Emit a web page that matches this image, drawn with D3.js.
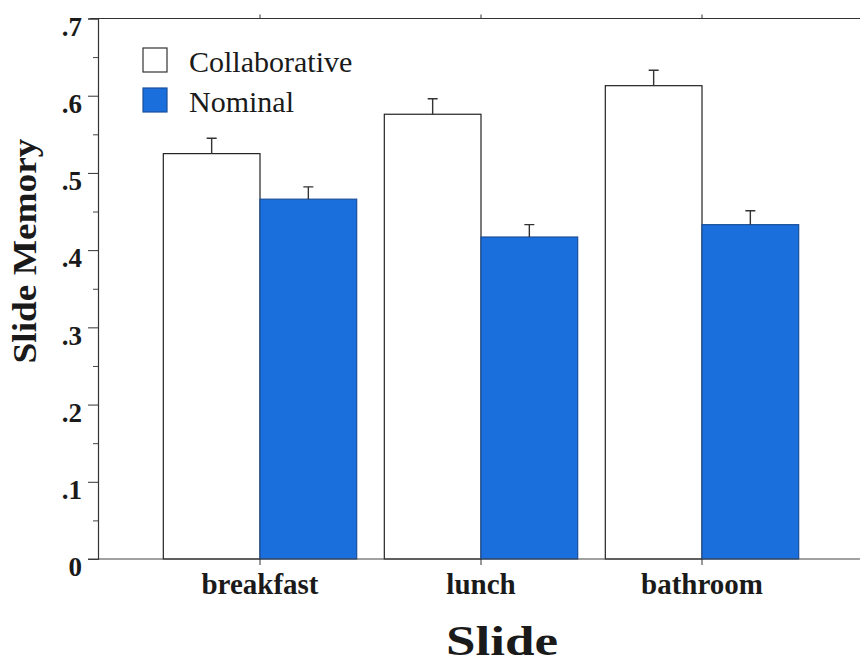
<!DOCTYPE html>
<html>
<head>
<meta charset="utf-8">
<script src="https://cdn.jsdelivr.net/npm/d3@7"></script>
<style>
  body { margin: 0; background: #fff; }
  svg { display: block; }
</style>
</head>
<body>
<div id="chart"></div>
<script>
const categories = ["breakfast", "lunch", "bathroom"];
const seriesNames = ["Collaborative", "Nominal"];
const collaborative = [0.525, 0.576, 0.613];
const nominal = [0.466, 0.417, 0.433];
const collaborativeErr = [0.02, 0.02, 0.02];
const nominalErr = [0.016, 0.016, 0.018];
const yTicks = [0, 0.1, 0.2, 0.3, 0.4, 0.5, 0.6, 0.7];
const yMinorTicks = [0.05, 0.15, 0.25, 0.35, 0.45, 0.55, 0.65];

const width = 860, height = 666;
const serif = "\"Liberation Serif\", \"Times New Roman\", Times, serif";
const blue = "#1b6fdc";

const svg = d3.select("#chart")
  .append("svg")
  .attr("width", width)
  .attr("height", height)
  .style("font-family", serif);

const plotLeft = 98, plotTop = 18.5, plotBottom = 559;

const y = d3.scaleLinear().domain([0, 0.7]).range([plotBottom, plotTop]);

const x = d3.scaleBand()
  .domain(categories)
  .range([149.5, 812.5])
  .paddingInner(0.125)
  .paddingOuter(0.0625);

const xInner = d3.scaleBand()
  .domain(seriesNames)
  .range([0, x.bandwidth()]);

const color = d3.scaleOrdinal().domain(seriesNames).range(["#ffffff", blue]);

const rows = categories.map((c, i) => ({
  cat: c,
  values: [
    { key: "Collaborative", v: collaborative[i], err: collaborativeErr[i] },
    { key: "Nominal", v: nominal[i], err: nominalErr[i] },
  ],
}));

// frame (right side runs off the page)
svg.append("line")
  .attr("x1", plotLeft - 8).attr("x2", width + 20)
  .attr("y1", plotTop).attr("y2", plotTop)
  .attr("stroke", "#333").attr("stroke-width", 1.2);

// bars
const groups = svg.selectAll(".grp")
  .data(rows)
  .enter()
  .append("g")
  .attr("class", "grp")
  .attr("transform", (d) => `translate(${x(d.cat)},0)`);

groups.selectAll("rect")
  .data((d) => d.values)
  .enter()
  .append("rect")
  .attr("x", (d) => xInner(d.key))
  .attr("y", (d) => y(d.v))
  .attr("width", xInner.bandwidth())
  .attr("height", (d) => y(0) - y(d.v))
  .attr("fill", (d) => color(d.key))
  .attr("stroke", (d) => (d.key === "Nominal" ? "#1a4f9a" : "#222"))
  .attr("stroke-width", 1.2);

// error bars (upper only)
groups.selectAll(".err")
  .data((d) => d.values)
  .enter()
  .append("path")
  .attr("class", "err")
  .attr("d", (d) => {
    const cx = xInner(d.key) + xInner.bandwidth() / 2;
    const y0 = y(d.v), y1 = y(d.v + d.err);
    return `M${cx},${y0}V${y1}M${cx - 5},${y1}H${cx + 5}`;
  })
  .attr("fill", "none")
  .attr("stroke", "#333")
  .attr("stroke-width", 1.4);

// y axis
const yAxis = d3.axisLeft(y)
  .tickValues(yTicks)
  .tickSize(10)
  .tickFormat((d) => (d === 0 ? "0" : d3.format(".1f")(d).replace(/^0/, "")));

const yg = svg.append("g")
  .attr("transform", `translate(${plotLeft},0)`)
  .call(yAxis)
  .attr("font-family", null);
yg.select(".domain").attr("stroke", "#333").attr("stroke-width", 1.2);
yg.selectAll(".tick line").attr("stroke", "#333");
yg.selectAll("text")
  .attr("x", -16)
  .attr("dy", "0.62em")
  .attr("fill", "#1a1a1a")
  .style("font-family", serif)
  .style("font-weight", "bold")
  .style("font-size", "27px");

svg.append("g")
  .attr("transform", `translate(${plotLeft},0)`)
  .call(d3.axisLeft(y).tickValues(yMinorTicks).tickSize(5).tickFormat(""))
  .call((g) => g.select(".domain").remove())
  .selectAll("line").attr("stroke", "#444");

// baseline
svg.append("line")
  .attr("x1", plotLeft - 10).attr("x2", width + 20)
  .attr("y1", y(0)).attr("y2", y(0))
  .attr("stroke", "#444").attr("stroke-width", 1.2);

// category ticks, bottom and top
const centers = categories.map((c) => x(c) + x.bandwidth() / 2);
svg.selectAll(".btick")
  .data(centers)
  .enter()
  .append("line")
  .attr("x1", (d) => d).attr("x2", (d) => d)
  .attr("y1", y(0)).attr("y2", y(0) + 6)
  .attr("stroke", "#333");
svg.selectAll(".ttick")
  .data(centers)
  .enter()
  .append("line")
  .attr("x1", (d) => d).attr("x2", (d) => d)
  .attr("y1", plotTop).attr("y2", plotTop - 4)
  .attr("stroke", "#333");

// category labels
svg.selectAll(".clab")
  .data(categories)
  .enter()
  .append("text")
  .attr("x", (d) => x(d) + x.bandwidth() / 2)
  .attr("y", 594)
  .attr("text-anchor", "middle")
  .attr("fill", "#1a1a1a")
  .style("font-family", serif)
  .style("font-weight", "bold")
  .style("font-size", "29px")
  .text((d) => d);

// axis titles
svg.append("text")
  .attr("x", 502)
  .attr("y", 655)
  .attr("text-anchor", "middle")
  .attr("textLength", 112)
  .attr("lengthAdjust", "spacingAndGlyphs")
  .attr("fill", "#1a1a1a")
  .style("font-family", serif)
  .style("font-weight", "bold")
  .style("font-size", "42px")
  .text("Slide");

svg.append("text")
  .attr("transform", "translate(36,251) rotate(-90)")
  .attr("text-anchor", "middle")
  .attr("textLength", 225)
  .attr("lengthAdjust", "spacingAndGlyphs")
  .attr("fill", "#1a1a1a")
  .style("font-family", serif)
  .style("font-weight", "bold")
  .style("font-size", "34px")
  .text("Slide Memory");

// legend
const legend = svg.selectAll(".leg")
  .data(seriesNames)
  .enter()
  .append("g")
  .attr("transform", (d, i) => `translate(143,${48 + i * 40})`);

legend.append("rect")
  .attr("width", 24)
  .attr("height", 24)
  .attr("fill", (d) => color(d))
  .attr("stroke", (d) => (d === "Nominal" ? "#1a4f9a" : "#333"))
  .attr("stroke-width", 1.2);

legend.append("text")
  .attr("x", 46)
  .attr("y", 24)
  .attr("fill", "#1a1a1a")
  .style("font-family", serif)
  .style("font-size", "30px")
  .text((d) => d);
</script>
</body>
</html>
